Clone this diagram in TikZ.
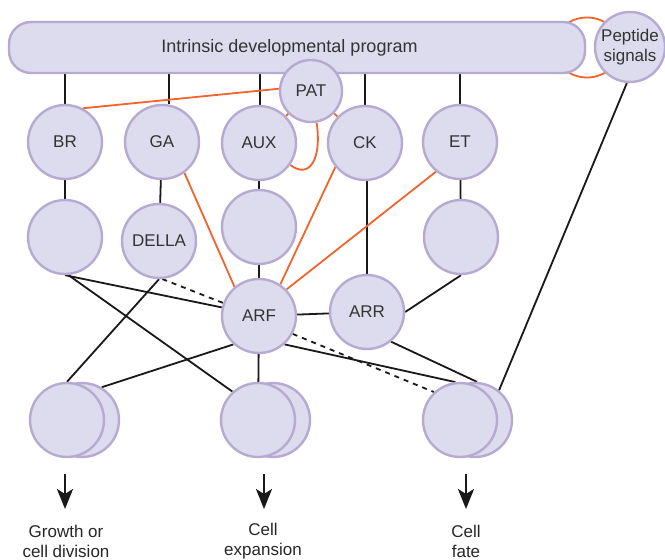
\documentclass[tikz,border=0pt]{standalone}
\usepackage{fontspec}
\setmainfont{Liberation Sans}
\usetikzlibrary{positioning,arrows.meta,backgrounds}
\tikzset{>=Stealth}
\definecolor{lavfill}{HTML}{DDDCEE}
\definecolor{lavline}{HTML}{B7AAD0}
\definecolor{myorange}{HTML}{F2642C}
\definecolor{txtgray}{HTML}{333333}

\begin{document}
\begin{tikzpicture}[x=1pt, y=-1pt,
                    line cap=round, line join=round,
                    cell/.style={circle, draw=lavline, fill=lavfill, line width=2.4pt,
                                 minimum size=74pt, inner sep=0pt, text=txtgray},
                    small/.style={cell, minimum size=62pt},
                    prog/.style={draw=lavline, fill=lavfill, line width=2.4pt, rounded corners=22pt,
                                 minimum width=576pt, minimum height=51pt, text=txtgray},
                    link/.style={black!90, line width=1.8pt},
                    hint/.style={link, line cap=butt, dash pattern=on 5pt off 5pt},
                    cross/.style={myorange, line width=1.8pt},
                    resp/.style={black!90, line width=2.6pt, line cap=butt,
                                 -{Stealth[length=20pt,width=16pt,inset=5pt]}},
                    outcome/.style={align=center, text=black!85, inner sep=0pt}]
  \fontsize{17}{20}\selectfont
  \useasboundingbox (0,0) rectangle (665,560);

  % loop between program and peptides (behind)
  \draw[cross] (587,47.5) ellipse [x radius=33pt, y radius=30pt];

  % program bar and peptides
  \node[prog, font=\fontsize{18}{21}\selectfont] (bar) at (297,47.5)
    {Intrinsic developmental program\hspace*{15pt}};
  \node[cell, minimum size=70pt, align=center] (pep) at (630,47) {Peptide\\signals};
  \node[small] (pat) at (311,91) {PAT};

  % hormones
  \node[cell] (br)  at (65,142)  {BR};
  \node[cell] (ga)  at (162,142) {GA};
  \node[cell] (aux) at (259,143) {AUX};
  \node[cell] (ck)  at (365,143) {CK};
  \node[cell] (et)  at (460,142) {ET};

  % signalling
  \node[cell] (brx)   at (65,237)  {};
  \node[cell] (della) at (159,241) {DELLA};
  \node[cell] (auxx)  at (259,227) {};
  \node[cell] (etx)   at (461,237) {};
  \node[cell] (arf)   at (259,316) {ARF};
  \node[cell] (arr)   at (367,312) {ARR};

  % targets (double cells)
  \node[cell] (grow2)   at (82,420)  {};
  \node[cell] (grow)    at (67,420)  {};
  \node[cell] (expand2) at (273,420) {};
  \node[cell] (expand)  at (258,420) {};
  \node[cell] (fate2)   at (475,420) {};
  \node[cell] (fate)    at (460,420) {};

  % outcomes
  \node[outcome] (growtxt)   at (66,541)  {Growth or\\cell division};
  \node[outcome] (expandtxt) at (263,541) {Cell\\expansion};
  \node[outcome] (fatetxt)   at (466,541) {Cell\\fate};
  \foreach \n/\x in {grow/65, expand/264, fate/466}{
    \coordinate (\n top) at (\x,474);
    \coordinate (\n tip) at (\x,509);
    \draw[resp] (\n top) -- (\n tip);
  }

  \begin{scope}[on background layer]
    % program -> hormones
    \foreach \n/\a in {br/90, ga/80, aux/88, ck/90, et/90}
      \draw[link] (bar.south -| \n.\a) -- (\n.\a);
    \draw[link] (br) -- (brx);
    \draw[link] (ga) -- (della);
    \draw[link] (aux) -- (auxx);
    \draw[link] (auxx) -- (arf);
    \draw[link] (ck.south -| arr.north) -- (arr);
    \draw[link] (et) -- (etx);
    \draw[link] (arf) -- (arr);
    \draw[link] (arr.east) -- (etx.south);
    % to targets
    \draw[link] (brx.south) -- (arf.167);
    \draw[link] (brx.-85) -- (expand.132);
    \draw[link] (della.south) -- (grow.north);
    \draw[hint] (della.-85) -- (arf.160);
    \draw[link] (arf.-132) -- (grow2.59);
    \draw[link] (arf) -- (expand);
    \draw[link] (arf.-48) -- (fate.97);
    \draw[hint] (arf.-28) -- (fate.133);
    \draw[link] (arr.-51) -- (fate2.87);
    \draw[link] (pep.-95) -- (fate2.51);
    % crosstalk
    \draw[cross] (pat.176) -- (br.62);
    \draw[cross] (pat) -- (aux);
    \draw[cross] (pat) -- (ck);
    \draw[cross] (pat.-80) .. controls (322,158) and (310,180) .. (aux.-35);
    \draw[cross] (ga.-54) -- (arf.130);
    \draw[cross] (ck.-141) -- (arf.56);
    \draw[cross] (et.-129) -- (arf.44);
  \end{scope}
\end{tikzpicture}
\end{document}
